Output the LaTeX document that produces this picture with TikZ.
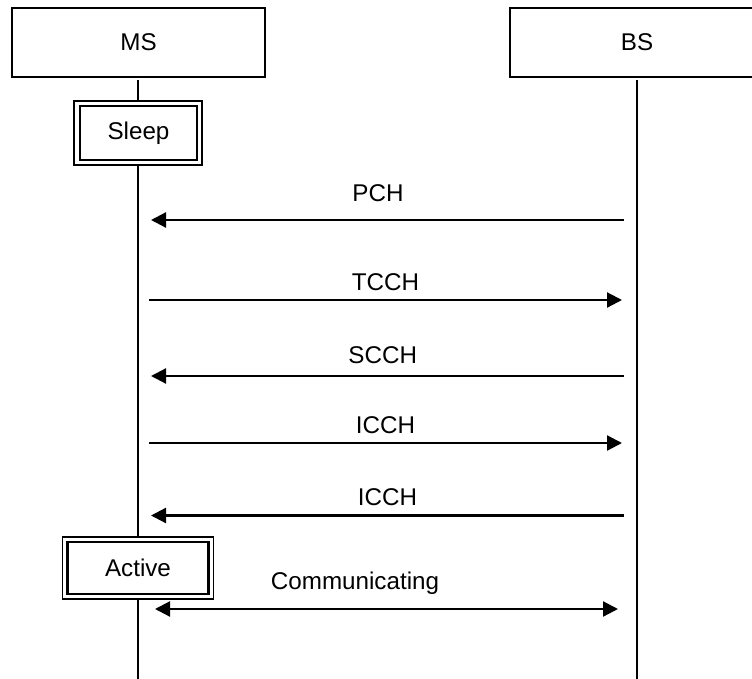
\documentclass[tikz,border=0pt]{standalone}
\usepackage{fontspec}
\setmainfont{Liberation Sans}
\usetikzlibrary{arrows.meta}
\tikzset{
  txt/.style={font=\fontsize{24.2}{28}\selectfont},
  actor/.style={draw, line width=1.8pt, minimum height=69pt, inner sep=0pt, txt},
  stateout/.style={draw, line width=1.5pt, inner sep=0pt},
  statein/.style={draw, line width=2.6pt, inner sep=0pt, txt},
  life/.style={line width=2pt},
  msg/.style={line width=2.2pt, -{Triangle[length=15pt,width=15pt]}},
  msg2/.style={line width=2.2pt, {Triangle[length=15pt,width=15pt]}-{Triangle[length=15pt,width=15pt]}},
  lbl/.style={anchor=base, inner sep=0pt, txt}
}
\begin{document}
\begin{tikzpicture}[x=1pt, y=-1pt]
\clip (0,0) rectangle (752,679);
\fill[white] (0,0) rectangle (752,679);
% actors
\node[actor, minimum width=253pt] (ms) at (138.5,42.5) {MS};
\node[actor, minimum width=254pt] (bs) at (637,42.5) {BS};
% states
\node[stateout, minimum width=128pt, minimum height=64pt] (sleepO) at (138,133) {};
\node[statein, minimum width=117pt, minimum height=54pt] (sleep) at (138.5,133) {Sleep};
\node[stateout, minimum width=151pt, minimum height=62pt] (activeO) at (138,568) {};
\node[statein, minimum width=141pt, minimum height=52pt] (active) at (138,568) {Active};
% lifeline ends
\coordinate (msend) at (138,682);
\coordinate (bsend) at (637,682);
\draw[life] ([yshift=-2pt]ms.south -| sleepO.north) -- (sleepO.north);
\draw[life] (sleepO.south) -- (activeO.north);
\draw[life] (activeO.south) -- (msend);
\draw[life] ([yshift=-2pt]bs.south) -- (bsend);
% message end points
\coordinate (b1) at (624,220); \coordinate (m1) at (151,220);
\coordinate (m2) at (149,300); \coordinate (b2) at (622,300);
\coordinate (b3) at (624,376); \coordinate (m3) at (151,376);
\coordinate (m4) at (149,443); \coordinate (b4) at (622,443);
\coordinate (b5) at (624,515.5); \coordinate (m5) at (151,515.5);
\coordinate (m6) at (155,609); \coordinate (b6) at (618,609);
\draw[msg] (b1) -- node[lbl, pos=0.52, yshift=18pt]{PCH} (m1);
\draw[msg] (m2) -- node[lbl, pos=0.5, yshift=10pt]{TCCH} (b2);
\draw[msg] (b3) -- node[lbl, pos=0.51, yshift=13pt]{SCCH} (m3);
\draw[msg] (m4) -- node[lbl, pos=0.5, yshift=10pt]{ICCH} (b4);
\draw[msg] (b5) -- node[lbl, pos=0.5, yshift=10pt]{ICCH} (m5);
\draw[msg2] (m6) -- node[lbl, pos=0.432, yshift=20pt]{Communicating} (b6);
\end{tikzpicture}
\end{document}
